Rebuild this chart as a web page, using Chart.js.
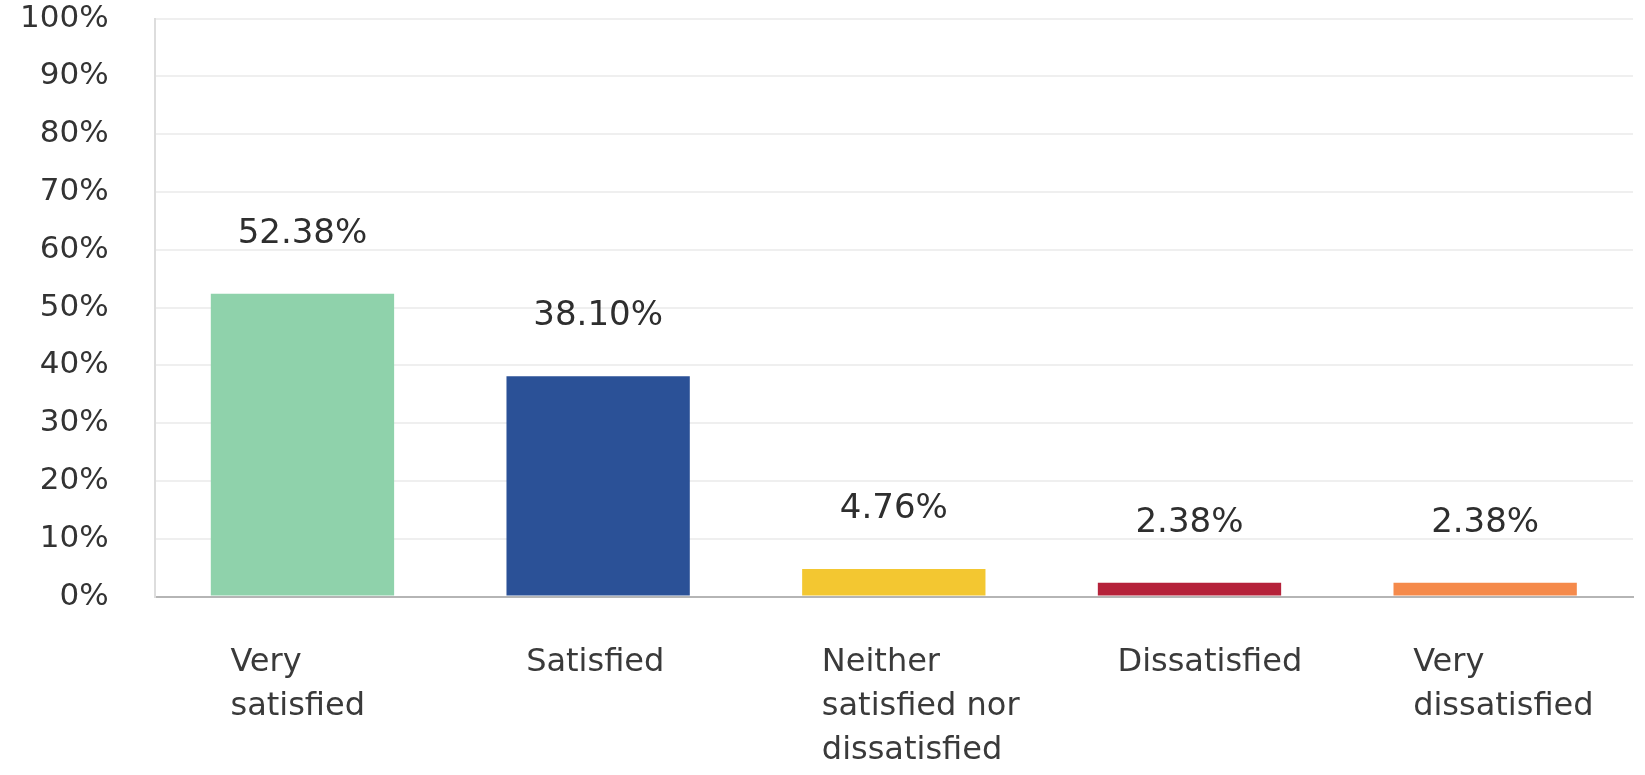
<!DOCTYPE html>
<html>
<head>
<meta charset="utf-8">
<script src="https://cdn.jsdelivr.net/npm/chart.js@4"></script>
<style>
  html, body { margin: 0; padding: 0; background: #ffffff; overflow: hidden; }
  #wrap { width: 1645px; height: 775px; }
</style>
</head>
<body>
<div id="wrap"><canvas id="chart"></canvas></div>
<script>
const categories = [
  ['Very', 'satisfied'],
  ['Satisfied'],
  ['Neither', 'satisfied nor', 'dissatisfied'],
  ['Dissatisfied'],
  ['Very', 'dissatisfied']
];
const percentages = [52.38, 38.10, 4.76, 2.38, 2.38];
const barColors = ['#8fd2ab', '#2b5197', '#f3c731', '#b5223a', '#f58a4b'];
const yTicks = [0, 10, 20, 30, 40, 50, 60, 70, 80, 90, 100];

// value labels above each bar
const valueLabels = {
  id: 'valueLabels',
  afterDatasetsDraw(chart) {
    const ctx = chart.ctx;
    const meta = chart.getDatasetMeta(0);
    ctx.save();
    ctx.font = '34px "DejaVu Sans"';
    ctx.fillStyle = '#2e2e2e';
    ctx.textAlign = 'center';
    ctx.textBaseline = 'middle';
    meta.data.forEach((bar, i) => {
      ctx.fillText(percentages[i].toFixed(2) + '%', bar.x, bar.y - 60);
    });
    ctx.restore();
  }
};

new Chart(document.getElementById('chart'), {
  type: 'bar',
  data: {
    labels: categories,
    datasets: [{
      data: percentages,
      backgroundColor: barColors,
      borderWidth: 0,
      barPercentage: 1,
      categoryPercentage: 0.62
    }]
  },
  options: {
    responsive: true,
    maintainAspectRatio: false,
    animation: false,
    layout: {
      padding: { left: 20, right: 12, top: 0, bottom: 2 }
    },
    plugins: {
      legend: { display: false },
      tooltip: { enabled: false }
    },
    scales: {
      x: {
        grid: { display: false, drawTicks: true, tickLength: 44 },
        border: { color: '#b5b5b5', width: 2 },
        // labels are left aligned, so don't let them eat space on the right
        afterFit(axis) {
          axis.paddingLeft = 0;
          axis.paddingRight = 0;
        },
        ticks: {
          align: 'start',
          labelOffset: -72,
          padding: 0,
          color: '#3a3a3a',
          maxRotation: 0,
          autoSkip: false,
          font: { family: 'DejaVu Sans', size: 32, lineHeight: 1.38 }
        }
      },
      y: {
        min: 0,
        max: 100,
        afterBuildTicks(axis) {
          axis.ticks = yTicks.map(v => ({ value: v }));
        },
        grid: {
          color: '#efefef',
          lineWidth: 2,
          drawTicks: true,
          tickLength: 46,
          tickColor: 'rgba(0,0,0,0)'
        },
        border: { color: '#dddddd', width: 2 },
        ticks: {
          padding: 0,
          color: '#333333',
          font: { family: 'DejaVu Sans', size: 31 },
          callback: v => v + '%'
        }
      }
    }
  },
  plugins: [valueLabels]
});
</script>
</body>
</html>
